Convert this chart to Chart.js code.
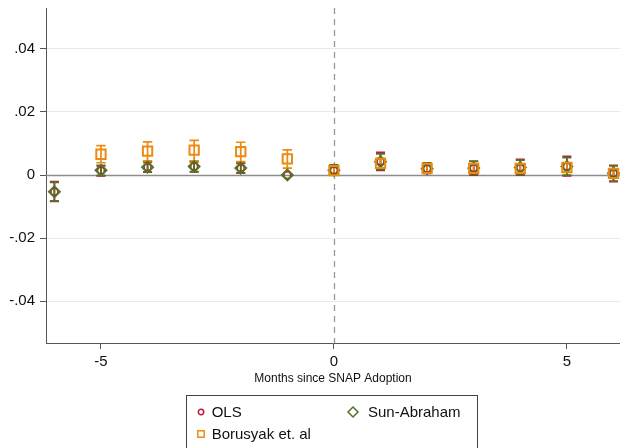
<!DOCTYPE html>
<html>
<head>
<meta charset="utf-8">
<script src="https://cdn.jsdelivr.net/npm/chart.js@4.4.1/dist/chart.umd.min.js"></script>
<style>
  html, body { margin: 0; padding: 0; background: #fff; }
  #wrap { position: relative; width: 620px; height: 448px; overflow: hidden; }
  #chart { position: absolute; left: 0; top: 0; }
  #legend { position: absolute; left: 186px; top: 395px; width: 292px; height: 70px;
            border: 1px solid #444; border-bottom: none; box-sizing: border-box;
            font-family: "Liberation Sans", Arial, Helvetica, sans-serif; color: #111; }
  .lab { position: absolute; font-size: 15px; line-height: 15px; white-space: nowrap; }
  .mk { position: absolute; }
</style>
</head>
<body>
<div id="wrap">
  <canvas id="chart" width="620" height="448"></canvas>
  <div id="legend"></div>
</div>
<script>
// Event-study estimates by month relative to SNAP adoption
const months = [-6, -5, -4, -3, -2, -1, 0, 1, 2, 3, 4, 5, 6];

const olsCoef = [-0.0053, 0.0014, 0.0025, 0.0027, 0.0022, 0.0000, 0.0015, 0.0043, 0.0020, 0.0022, 0.0023, 0.0027, 0.0006];
const olsLow  = [-0.0084, -0.0003, 0.0009, 0.0010, 0.0006, 0.0000, 0.0000, 0.0015, 0.0005, 0.0000, 0.0000, -0.0003, -0.0021];
const olsHigh = [-0.0021, 0.0030, 0.0041, 0.0043, 0.0038, 0.0000, 0.0031, 0.0072, 0.0036, 0.0043, 0.0050, 0.0059, 0.0031];

const saCoef = [-0.0053, 0.0015, 0.0025, 0.0027, 0.0022, 0.0000, 0.0015, 0.0042, 0.0020, 0.0022, 0.0024, 0.0027, 0.0006];
const saLow  = [-0.0082, -0.0001, 0.0010, 0.0011, 0.0007, 0.0000, 0.0001, 0.0017, 0.0006, 0.0002, 0.0001, 0.0000, -0.0019];
const saHigh = [-0.0023, 0.0030, 0.0040, 0.0042, 0.0037, 0.0000, 0.0032, 0.0067, 0.0039, 0.0044, 0.0047, 0.0055, 0.0029];

const borCoef = [null, 0.0066, 0.0076, 0.0079, 0.0074, 0.0051, 0.0014, 0.0037, 0.0021, 0.0021, 0.0021, 0.0024, 0.0005];
const borLow  = [null, 0.0039, 0.0045, 0.0045, 0.0043, 0.0022, 0.0002, 0.0022, 0.0010, 0.0010, 0.0008, 0.0010, -0.0008];
const borHigh = [null, 0.0093, 0.0105, 0.0110, 0.0104, 0.0080, 0.0026, 0.0053, 0.0032, 0.0032, 0.0034, 0.0038, 0.0018];

const yTicks = [-0.04, -0.02, 0, 0.02, 0.04];
const yTickLabels = ['-.04', '-.02', '0', '.02', '.04'];
const xTicks = [-5, 0, 5];
const xTickLabels = ['-5', '0', '5'];

const seriesNames = ['OLS', 'Sun-Abraham', 'Borusyak et. al'];
const RED = '#c4163f', GREEN = '#557325', ORANGE = '#ee8a12';
const FONT = '"Liberation Sans", Arial, Helvetica, sans-serif';

function pts(coef, lo, hi) {
  return months.map((m, i) => coef[i] === null ? null : { x: m, y: coef[i], lo: lo[i], hi: hi[i] })
               .filter(p => p !== null);
}

// keep the plot area exactly where the layout padding puts it
function noScalePadding(s) {
  s.paddingTop = 0; s.paddingBottom = 0; s.paddingLeft = 0; s.paddingRight = 0;
}

// Zero reference lines and confidence-interval caps, drawn through the chart scales
const ciPlugin = {
  id: 'ciPlugin',
  beforeDatasetsDraw(chart) {
    const { ctx, chartArea: a, scales: { x, y } } = chart;
    ctx.save();
    ctx.beginPath();
    ctx.rect(a.left, a.top, a.right - a.left, a.bottom - a.top);
    ctx.clip();
    // horizontal line at zero
    const y0 = Math.round(y.getPixelForValue(0)) + 0.5;
    ctx.strokeStyle = '#8c8c8c';
    ctx.lineWidth = 1.5;
    ctx.beginPath(); ctx.moveTo(a.left, y0); ctx.lineTo(a.right, y0); ctx.stroke();
    // dashed line at adoption month
    const x0 = Math.round(x.getPixelForValue(0)) + 0.5;
    ctx.strokeStyle = '#969696';
    ctx.setLineDash([6, 5]);
    ctx.lineWidth = 1.3;
    ctx.beginPath(); ctx.moveTo(x0, a.top); ctx.lineTo(x0, a.bottom); ctx.stroke();
    ctx.setLineDash([]);
    // confidence intervals, back series first
    [0, 1, 2].forEach(di => {
      const ds = chart.data.datasets[di];
      ctx.strokeStyle = ds.borderColor;
      ctx.lineWidth = 1.7;
      const half = ds.capHalf;
      ds.data.forEach(p => {
        if (p.lo === p.hi) return;
        const px = x.getPixelForValue(p.x);
        const pl = y.getPixelForValue(p.lo);
        const ph = y.getPixelForValue(p.hi);
        ctx.beginPath();
        ctx.moveTo(px, pl); ctx.lineTo(px, ph);
        ctx.moveTo(px - half, pl); ctx.lineTo(px + half, pl);
        ctx.moveTo(px - half, ph); ctx.lineTo(px + half, ph);
        ctx.stroke();
      });
    });
    ctx.restore();
  }
};

new Chart(document.getElementById('chart'), {
  type: 'scatter',
  data: {
    datasets: [
      { label: seriesNames[0], data: pts(olsCoef, olsLow, olsHigh), pointStyle: 'circle', pointRadius: 3.4,
        borderColor: RED, backgroundColor: 'rgba(0,0,0,0)', pointBorderWidth: 1.5, capHalf: 4.5, order: 2 },
      { label: seriesNames[1], data: pts(saCoef, saLow, saHigh), pointStyle: 'rectRot', pointRadius: 5.4,
        borderColor: GREEN, backgroundColor: 'rgba(0,0,0,0)', pointBorderWidth: 2, capHalf: 4.5, order: 1 },
      { label: seriesNames[2], data: pts(borCoef, borLow, borHigh), pointStyle: 'rect', pointRadius: 6.6,
        borderColor: ORANGE, backgroundColor: 'rgba(0,0,0,0)', pointBorderWidth: 2, capHalf: 4.7, order: 0 }
    ]
  },
  options: {
    responsive: false,
    animation: false,
    events: [],
    layout: { autoPadding: false, padding: { top: 8, left: 0, right: 0, bottom: 0 } },
    plugins: { legend: { display: false }, tooltip: { enabled: false } },
    scales: {
      x: {
        type: 'linear', min: -6.18, max: 6.14,
        afterBuildTicks: s => { s.ticks = xTicks.map(v => ({ value: v })); },
        afterFit: s => { s.height = 105; noScalePadding(s); },
        ticks: { callback: (v) => xTickLabels[xTicks.indexOf(v)], font: { family: FONT, size: 15 },
                 color: '#111', padding: 4, maxRotation: 0, autoSkip: false },
        grid: { drawOnChartArea: false, tickLength: 6, tickColor: '#555', tickWidth: 1 },
        border: { color: '#555', width: 1 },
        title: { display: true, text: 'Months since SNAP Adoption', font: { family: FONT, size: 12 },
                 color: '#111', padding: { top: 0, bottom: 62 } }
      },
      y: {
        type: 'linear', min: -0.0533, max: 0.053,
        afterBuildTicks: s => { s.ticks = yTicks.map(v => ({ value: v })); },
        afterFit: s => { s.width = 46; noScalePadding(s); },
        ticks: { callback: (v) => yTickLabels[yTicks.indexOf(v)], font: { family: FONT, size: 15 },
                 color: '#111', padding: 5, autoSkip: false },
        grid: { color: (c) => (c.tick && c.tick.value === 0) ? 'rgba(0,0,0,0)' : '#e3ebef',
                lineWidth: 1, tickLength: 6, tickColor: '#555', tickWidth: 1 },
        border: { color: '#555', width: 1 }
      }
    }
  },
  plugins: [ciPlugin]
});

// Legend box below the plot
const legend = document.getElementById('legend');
const items = [
  { name: seriesNames[0], color: RED, shape: 'circle', mx: 14.7, my: 16.7, lx: 25.7, ly: 9 },
  { name: seriesNames[1], color: GREEN, shape: 'diamond', mx: 167, my: 16.7, lx: 182, ly: 9 },
  { name: seriesNames[2], color: ORANGE, shape: 'square', mx: 14.7, my: 39, lx: 25.7, ly: 30.7 }
];
items.forEach(it => {
  const svgNS = 'http://www.w3.org/2000/svg';
  const svg = document.createElementNS(svgNS, 'svg');
  svg.setAttribute('width', 16); svg.setAttribute('height', 16);
  svg.setAttribute('class', 'mk');
  svg.style.left = (it.mx - 8 - 1) + 'px';
  svg.style.top = (it.my - 8 - 1) + 'px';
  let el;
  if (it.shape === 'circle') {
    el = document.createElementNS(svgNS, 'circle');
    el.setAttribute('cx', 8); el.setAttribute('cy', 8); el.setAttribute('r', 2.7);
  } else if (it.shape === 'diamond') {
    el = document.createElementNS(svgNS, 'polygon');
    el.setAttribute('points', '8,3 13,8 8,13 3,8');
  } else {
    el = document.createElementNS(svgNS, 'rect');
    el.setAttribute('x', 4.8); el.setAttribute('y', 4.8); el.setAttribute('width', 6.4); el.setAttribute('height', 6.4);
  }
  el.setAttribute('fill', 'none'); el.setAttribute('stroke', it.color); el.setAttribute('stroke-width', 1.5);
  svg.appendChild(el);
  legend.appendChild(svg);
  const lab = document.createElement('div');
  lab.className = 'lab';
  lab.style.left = (it.lx - 1) + 'px';
  lab.style.top = (it.ly - 1) + 'px';
  lab.textContent = it.name;
  legend.appendChild(lab);
});
</script>
</body>
</html>
